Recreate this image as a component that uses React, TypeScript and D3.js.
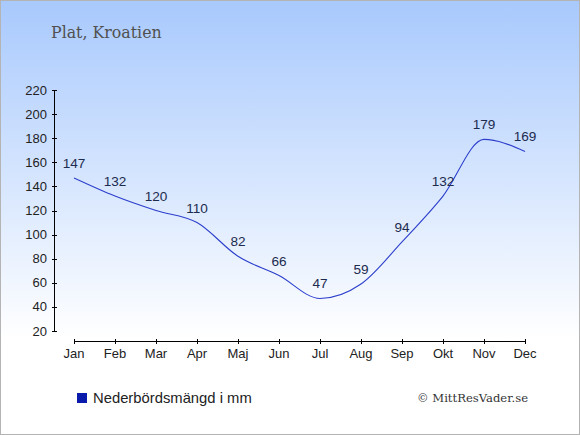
import { useEffect, useRef } from "react";
import * as d3 from "d3";

const months = ["Jan", "Feb", "Mar", "Apr", "Maj", "Jun", "Jul", "Aug", "Sep", "Okt", "Nov", "Dec"];
const rainfall = [147, 132, 120, 110, 82, 66, 47, 59, 94, 132, 179, 169];
const yTicks = [20, 40, 60, 80, 100, 120, 140, 160, 180, 200, 220];

const title = "Plat, Kroatien";
const legendLabel = "Nederbördsmängd i mm";
const credit = "© MittResVader.se";

export default function App() {
  const svgRef = useRef<SVGSVGElement | null>(null);
  const width = 580;
  const height = 435;

  useEffect(() => {
    document.body.style.margin = "0";
    const svg = d3.select(svgRef.current);
    svg.selectAll("*").remove();

    const defs = svg.append("defs");
    const grad = defs
      .append("linearGradient")
      .attr("id", "bg")
      .attr("x1", 0)
      .attr("y1", 0)
      .attr("x2", 0)
      .attr("y2", 1);
    grad.append("stop").attr("offset", "0%").attr("stop-color", "#a8c9fd");
    grad.append("stop").attr("offset", "78%").attr("stop-color", "#ffffff");
    grad.append("stop").attr("offset", "100%").attr("stop-color", "#ffffff");

    svg
      .append("rect")
      .attr("x", 0.5)
      .attr("y", 0.5)
      .attr("width", width - 1)
      .attr("height", height - 1)
      .attr("fill", "url(#bg)")
      .attr("stroke", "#b4b4b4");

    svg
      .append("text")
      .attr("x", 51)
      .attr("y", 38)
      .attr("fill", "#505050")
      .attr("font-family", "'DejaVu Serif', serif")
      .attr("font-size", "15.8px")
      .text(title);

    const x = d3
      .scalePoint<string>()
      .domain(months)
      .range([74, 525]);

    const y = d3.scaleLinear().domain([20, 220]).range([331, 90]);

    // y axis
    const axisColor = "#000";
    svg
      .append("line")
      .attr("x1", 54.5)
      .attr("x2", 54.5)
      .attr("y1", y(220))
      .attr("y2", y(20))
      .attr("stroke", axisColor);
    const yg = svg.append("g");
    yTicks.forEach((t) => {
      yg.append("line")
        .attr("x1", 52)
        .attr("x2", 57)
        .attr("y1", Math.round(y(t)) + 0.5)
        .attr("y2", Math.round(y(t)) + 0.5)
        .attr("stroke", axisColor);
      yg.append("text")
        .attr("x", 47)
        .attr("y", y(t))
        .attr("dy", "0.35em")
        .attr("text-anchor", "end")
        .attr("font-family", "'Liberation Sans', Arial, sans-serif")
        .attr("font-size", "13px")
        .attr("fill", "#222")
        .text(t);
    });

    // x axis
    svg
      .append("line")
      .attr("x1", x("Jan")!)
      .attr("x2", x("Dec")!)
      .attr("y1", 341.5)
      .attr("y2", 341.5)
      .attr("stroke", axisColor);
    months.forEach((m) => {
      const px = Math.round(x(m)!) + 0.5;
      svg
        .append("line")
        .attr("x1", px)
        .attr("x2", px)
        .attr("y1", 339)
        .attr("y2", 344)
        .attr("stroke", axisColor);
      svg
        .append("text")
        .attr("x", x(m)!)
        .attr("y", 358)
        .attr("text-anchor", "middle")
        .attr("font-family", "'Liberation Sans', Arial, sans-serif")
        .attr("font-size", "13px")
        .attr("fill", "#222")
        .text(m);
    });

    const line = d3
      .line<number>()
      .x((_, i) => x(months[i])!)
      .y((d) => y(d))
      .curve(d3.curveMonotoneX);

    svg
      .append("path")
      .datum(rainfall)
      .attr("fill", "none")
      .attr("stroke", "#2c3fcc")
      .attr("stroke-width", 1.1)
      .attr("d", line);

    rainfall.forEach((v, i) => {
      svg
        .append("text")
        .attr("x", x(months[i])!)
        .attr("y", y(v) - 10)
        .attr("text-anchor", "middle")
        .attr("font-family", "'Liberation Sans', Arial, sans-serif")
        .attr("font-size", "13.6px")
        .attr("fill", "#1c2b4e")
        .text(v);
    });

    // legend
    svg
      .append("rect")
      .attr("x", 77)
      .attr("y", 393)
      .attr("width", 10)
      .attr("height", 10)
      .attr("fill", "#0a1aaa");
    svg
      .append("text")
      .attr("x", 93)
      .attr("y", 403)
      .attr("font-family", "'Liberation Sans', Arial, sans-serif")
      .attr("font-size", "14.8px")
      .attr("fill", "#222")
      .text(legendLabel);

    svg
      .append("text")
      .attr("x", 528)
      .attr("y", 402)
      .attr("text-anchor", "end")
      .attr("font-family", "'DejaVu Serif', serif")
      .attr("font-size", "11.6px")
      .attr("fill", "#333")
      .text(credit);
  }, []);

  return (
    <svg
      ref={svgRef}
      width={width}
      height={height}
      style={{ position: "absolute", left: 0, top: 0, display: "block" }}
    ></svg>
  );
}
